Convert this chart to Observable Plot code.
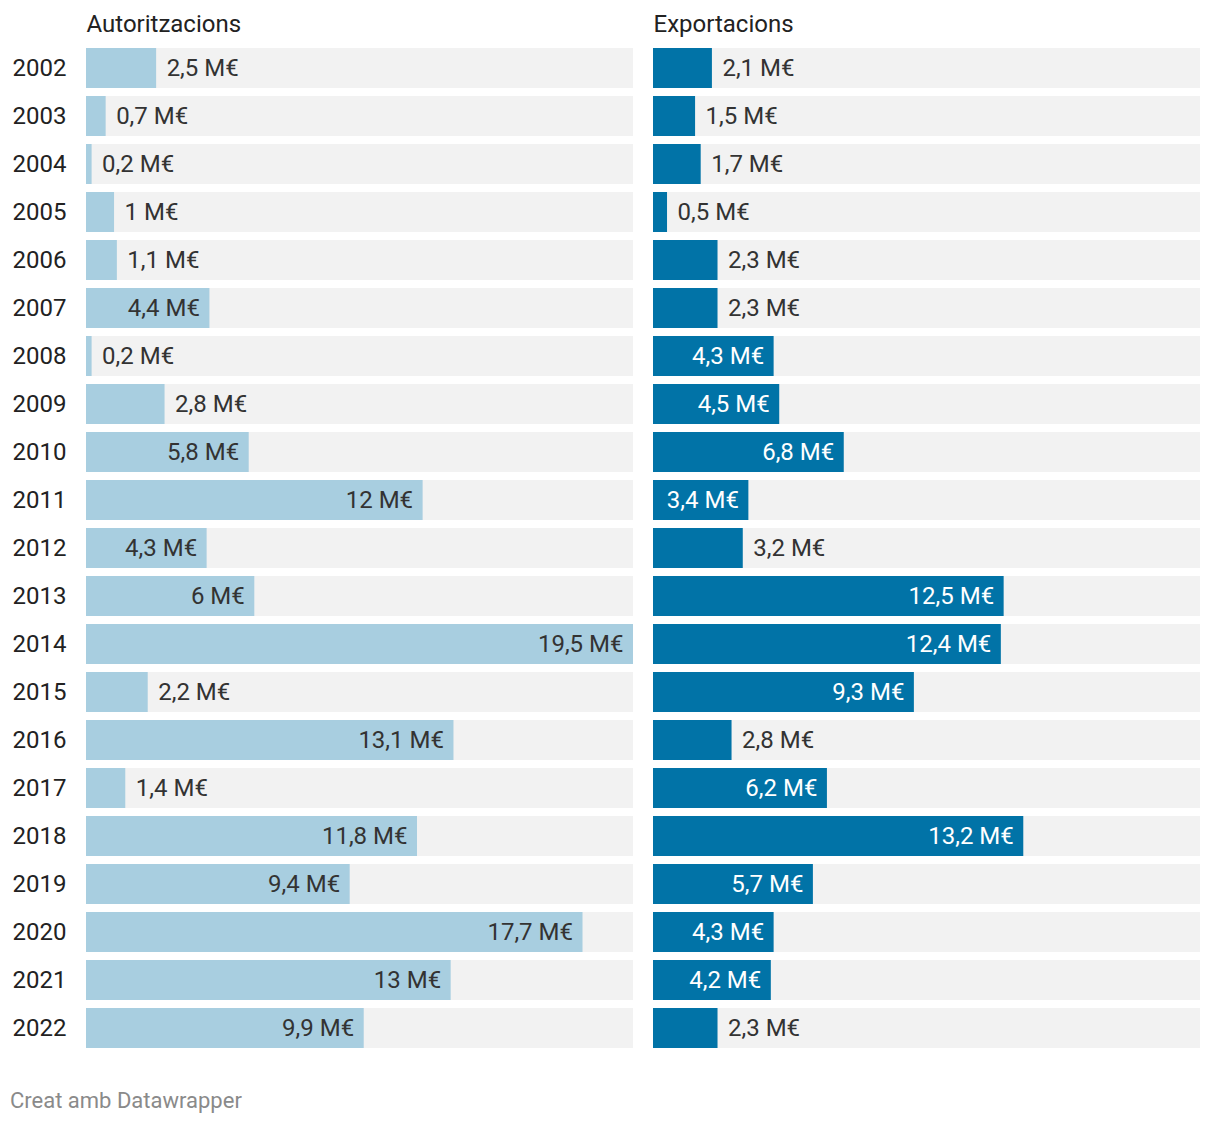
<!DOCTYPE html>
<html>
<head>
<meta charset="utf-8">
<script src="https://cdn.jsdelivr.net/npm/d3@7"></script>
<script src="https://cdn.jsdelivr.net/npm/@observablehq/plot@0.6"></script>
<style>
  body { margin: 0; background: #fff; font-family: Roboto, sans-serif; }
  #chart { width: 1220px; }
  .footer { margin: 28px 0 0 10px; font: 22px Roboto, sans-serif; color: #8a8a8a; line-height: 26px; }
</style>
</head>
<body>
<div id="chart"></div>
<div class="footer">Creat amb Datawrapper</div>
<script>
const years = ["2002","2003","2004","2005","2006","2007","2008","2009","2010","2011","2012","2013","2014","2015","2016","2017","2018","2019","2020","2021","2022"];
const panels = ["Autoritzacions", "Exportacions"];
const autoritzacions = [2.5,0.7,0.2,1,1.1,4.4,0.2,2.8,5.8,12,4.3,6,19.5,2.2,13.1,1.4,11.8,9.4,17.7,13,9.9];
const exportacions = [2.1,1.5,1.7,0.5,2.3,2.3,4.3,4.5,6.8,3.4,3.2,12.5,12.4,9.3,2.8,6.2,13.2,5.7,4.3,4.2,2.3];
const colors = ["#a8cee0", "#0173a7"];
const insideText = ["#333333", "#ffffff"];

const rows = [];
years.forEach((y, i) => {
  rows.push({year: y, panel: panels[0], value: autoritzacions[i]});
  rows.push({year: y, panel: panels[1], value: exportacions[i]});
});
const maxVal = d3.max(rows, d => d.value);
const fmt = v => String(v).replace(".", ",") + " M€";
const threshold = 3.3;
const inside = rows.filter(d => d.value >= threshold);
const outside = rows.filter(d => d.value < threshold);
const bgRows = rows.map(d => ({year: d.year, panel: d.panel, value: maxVal}));

const chart = Plot.plot({
  width: 1220,
  height: 1060,
  marginTop: 48,
  marginBottom: 12,
  marginLeft: 86,
  marginRight: 20,
  style: {fontFamily: "Roboto, sans-serif", fontSize: "24px", color: "#222"},
  fx: {domain: panels, paddingInner: 20/567, paddingOuter: 0, axis: null},
  x: {domain: [0, maxVal], axis: null},
  y: {domain: years, paddingInner: 8/48, paddingOuter: 0, label: null},
  color: {domain: panels, range: colors},
  marks: [
    Plot.barX(bgRows, {fx: "panel", y: "year", x1: 0, x2: "value", fill: "#f2f2f2"}),
    Plot.barX(rows, {fx: "panel", y: "year", x: "value", fill: "panel"}),
    Plot.text(inside, {fx: "panel", y: "year", x: "value", text: d => fmt(d.value), textAnchor: "end", dx: -10,
      fill: d => insideText[panels.indexOf(d.panel)], fontSize: 24}),
    Plot.text(outside, {fx: "panel", y: "year", x: "value", text: d => fmt(d.value), textAnchor: "start", dx: 10,
      fill: "#333333", fontSize: 24}),
    Plot.axisY({tickSize: 0, tickPadding: 20, fontSize: 24, fill: "#222", label: null, facetAnchor: "left"}),
    Plot.text(panels, {fx: d => d, text: d => d, frameAnchor: "top-left", dy: -17, textAnchor: "start",
      lineAnchor: "bottom", fill: "#222", fontSize: 24})
  ]
});
document.getElementById("chart").appendChild(chart);
</script>
</body>
</html>
